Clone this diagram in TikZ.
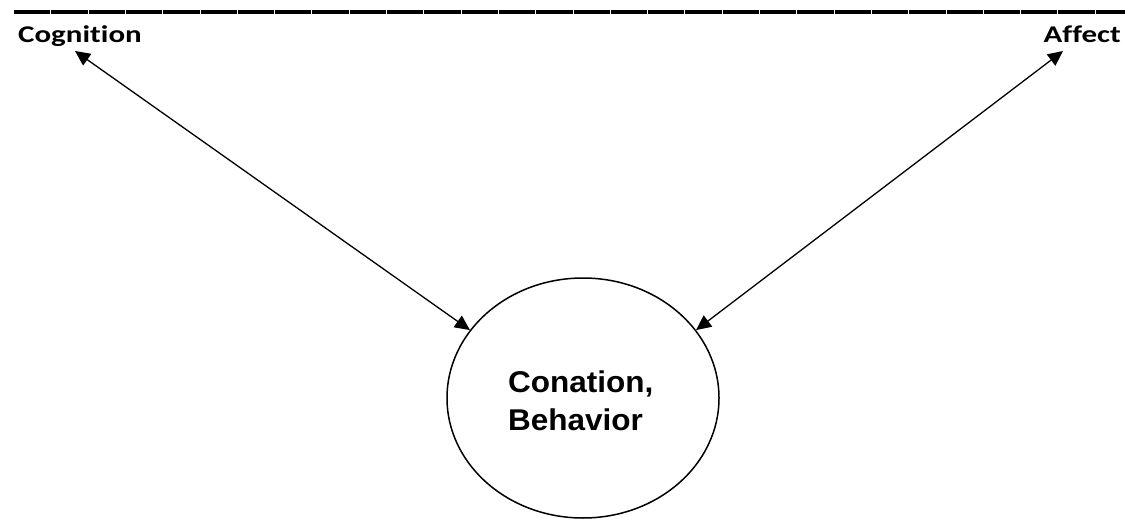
\documentclass[tikz,border=0pt]{standalone}
\usepackage{fontspec}
\usepackage{graphicx}
\usetikzlibrary{arrows.meta,shapes.geometric}
\newfontfamily\calfont[Ligatures={NoCommon}]{Carlito}
\newfontfamily\arifont{Liberation Sans}
\tikzset{
  toplabel/.style={inner sep=0pt, font=\calfont\bfseries\fontsize{24}{28}\selectfont},
  link/.style={line width=1.3pt, {Triangle[length=15pt,width=14pt]}-{Triangle[length=15pt,width=14pt]}},
  bubble/.style={ellipse, draw, line width=1.5pt, minimum width=272pt, minimum height=240pt, inner sep=0pt},
  bubbletext/.style={inner sep=0pt, align=left, font=\arifont\bfseries\fontsize{30}{38}\selectfont}
}
\begin{document}
\begin{tikzpicture}[x=1pt,y=-1pt]
\useasboundingbox (0,0) rectangle (1125,519);
\draw[line width=4.5pt, dash pattern=on 36.3pt off 1pt] (14,12) -- (1125,12);
\node[toplabel, anchor=base west] (cog) at (18,43) {\scalebox{1.29}[1]{Cognition}};
\node[toplabel, anchor=base east] (aff) at (1121,43) {\scalebox{1.29}[1]{Affect}};
\coordinate (cogpt) at (75,51);
\coordinate (affpt) at (1063,51);
\node[bubble] (beh) at (583,398) {};
\node[bubbletext, anchor=base west] (behtxt) at (508,430.7) {\scalebox{1.05}[1]{Conation,}\\\scalebox{1.05}[1]{Behavior}};
\draw[link] (cogpt) -- (beh.149);
\draw[link] (affpt) -- (beh.31);
\end{tikzpicture}
\end{document}
